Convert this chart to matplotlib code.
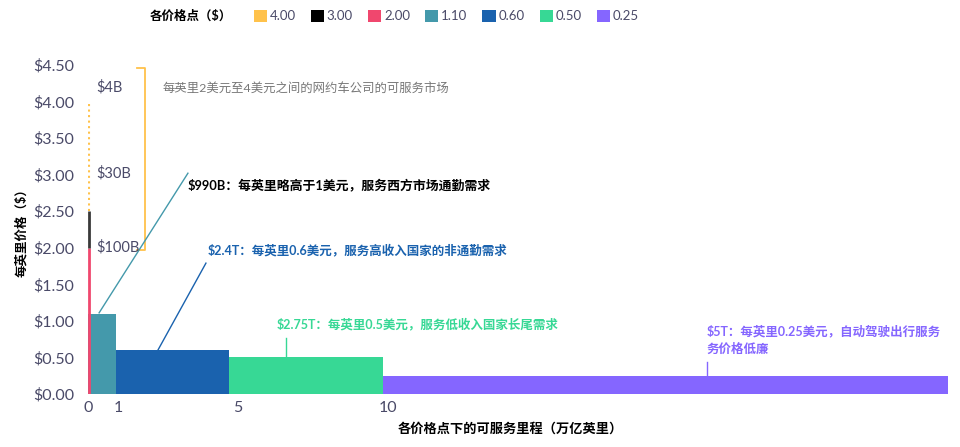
import matplotlib
matplotlib.use("Agg")
import matplotlib.pyplot as plt
from matplotlib.patches import Patch

plt.rcParams['font.family'] = ['Lato', 'Noto Sans CJK SC', 'DejaVu Sans']

# data
price_labels = ["4.00", "3.00", "2.00", "1.10", "0.60", "0.50", "0.25"]
price_colors = ["#FFC24B", "#000000", "#F0476E", "#4499AB", "#1A62AE", "#37D895", "#8566FF"]

# main blocks: price per mile, width in serviceable miles (trillion)
block_prices = [1.10, 0.60, 0.50, 0.25]
block_widths = [0.93, 3.77, 5.13, 18.83]
block_colors = price_colors[3:]

# thin stack at x=0 (drawn as a line, bottom -> top)
thin_bottoms = [0.0, 2.0, 2.5]
thin_tops = [2.0, 2.5, 4.0]
thin_colors = ["#F0476E", "#3a3a3a", "#FFC24B"]
thin_styles = ["-", "-", ":"]

market_labels = ["$4B", "$30B", "$100B"]
market_y = [4.19, 3.02, 2.01]

yticks = [0, 0.5, 1.0, 1.5, 2.0, 2.5, 3.0, 3.5, 4.0, 4.5]
xticks = [0, 1, 5, 10]

tick_color = "#4a4a68"

fig = plt.figure(figsize=(9.6, 4.47), dpi=100)
ax = fig.add_axes([88 / 960, 1 - 394 / 447, (948 - 88) / 960, (394 - 65) / 447])

left = 0
for p, w, c in zip(block_prices, block_widths, block_colors):
    ax.bar(left, p, width=w, align="edge", color=c, edgecolor="none")
    left += w

for b, t, c, s in zip(thin_bottoms, thin_tops, thin_colors, thin_styles):
    ax.plot([0.03, 0.03], [b, t], color=c, lw=2 if s == "-" else 1.5, linestyle=s,
            solid_capstyle="butt")

ax.set_xlim(0, sum(block_widths))
ax.set_ylim(0, 4.5)
ax.set_yticks(yticks)
ax.set_yticklabels(["$%.2f" % v for v in yticks])
ax.set_xticks(xticks)
ax.set_xticklabels([str(v) for v in xticks])
ax.tick_params(length=0, colors=tick_color, labelsize=11.5)
ax.tick_params(axis="y", pad=10)
ax.tick_params(axis="x", pad=5)
for s in ax.spines.values():
    s.set_visible(False)

# bracket for ride-hailing market
ax.plot([1.63, 1.9, 1.9, 1.63], [4.46, 4.46, 1.97, 1.97], color="#FFC24B", lw=1.3,
        clip_on=False)
for lab, y in zip(market_labels, market_y):
    ax.text(0.28, y, lab, color=tick_color, fontsize=10.5, va="center")
ax.text(2.5, 4.17, "每英里2美元至4美元之间的网约车公司的可服务市场", color="#777777",
        fontsize=8.9, va="center")

# callouts
ax.plot([0.37, 3.33], [1.11, 3.02], color="#4499AB", lw=1)
ax.text(3.33, 2.86, "$990B：每英里略高于1美元，服务西方市场通勤需求", color="#000000",
        fontsize=9.3, fontweight="bold", va="center")
ax.plot([2.33, 3.93], [0.60, 1.79], color="#1A62AE", lw=1)
ax.text(4.0, 1.97, "$2.4T：每英里0.6美元，服务高收入国家的非通勤需求", color="#1A62AE",
        fontsize=9, fontweight="bold", va="center")
ax.plot([6.6, 6.6], [0.5, 0.77], color="#37D895", lw=1)
ax.text(6.3, 0.96, "$2.75T：每英里0.5美元，服务低收入国家长尾需求", color="#37D895",
        fontsize=9, fontweight="bold", va="center")
ax.plot([20.63, 20.63], [0.25, 0.44], color="#8566FF", lw=1)
ax.text(20.6, 0.74, "$5T：每英里0.25美元，自动驾驶出行服务\n务价格低廉", color="#8566FF",
        fontsize=9, fontweight="bold", va="center", linespacing=1.5)

ax.set_ylabel("每英里价格（$）", fontsize=9, fontweight="bold", labelpad=4)
ax.set_xlabel("各价格点下的可服务里程（万亿英里）", fontsize=9.5, fontweight="bold")
ax.xaxis.set_label_coords((510 - 88) / (948 - 88), -0.085)

# legend on top
fig.text(150 / 960, 1 - 16 / 447, "各价格点（$）", fontsize=9, fontweight="bold", va="center")
handles = [Patch(facecolor=c, edgecolor="none") for c in price_colors]
fig.legend(handles, price_labels, loc="center left", bbox_to_anchor=(242 / 960, 1 - 16 / 447),
           ncol=7, frameon=False, handlelength=1.0, handleheight=1.0, handletextpad=0.2,
           columnspacing=1.15, prop={"size": 9.5}, labelcolor=tick_color)

fig.savefig("out.png", dpi=100)
